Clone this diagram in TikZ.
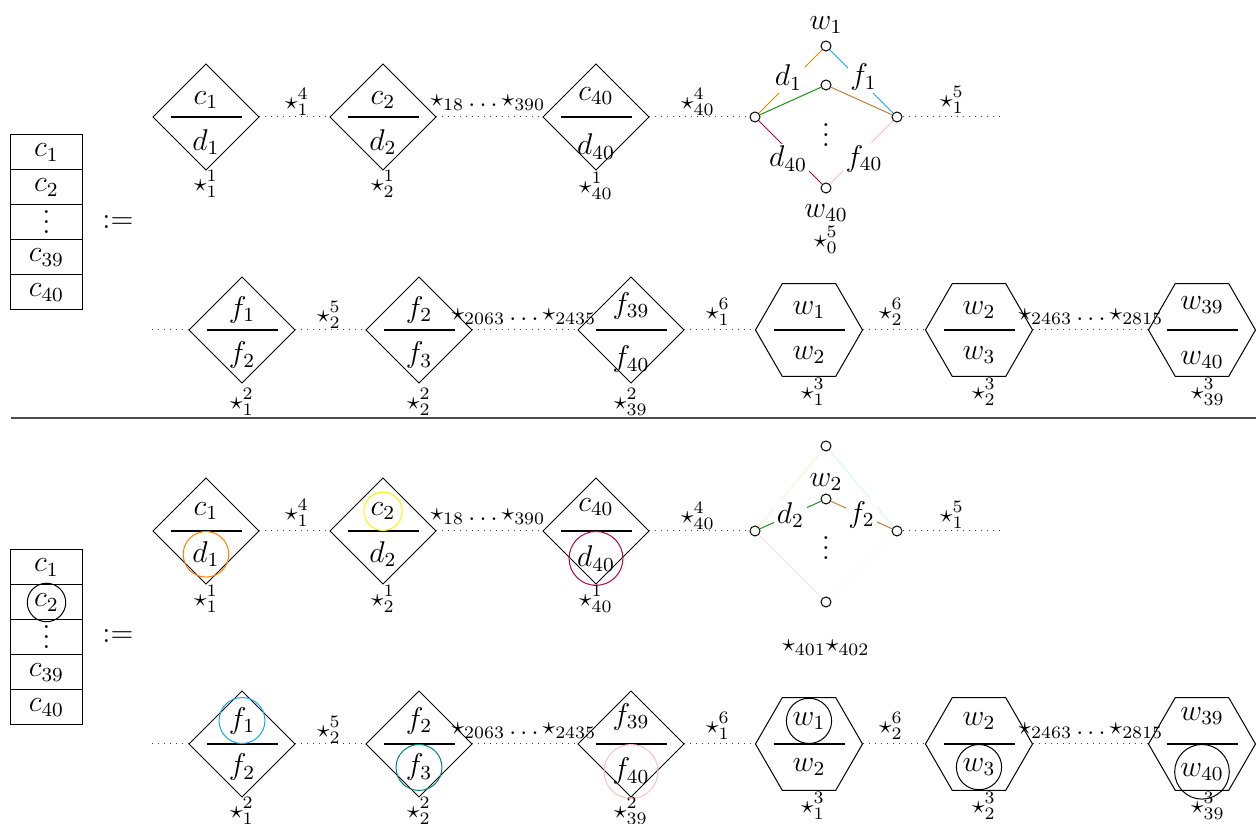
\documentclass[tikz,border=0pt]{standalone}
\usetikzlibrary{shapes.geometric}
\definecolor{mycyan}{RGB}{20,170,230}
\definecolor{mygreen}{RGB}{20,150,20}
\tikzset{
  dia/.style={diamond, draw, minimum width=42.4pt, minimum height=42.4pt, inner sep=0pt, outer sep=0pt},
  hexa/.style={regular polygon, regular polygon sides=6, draw, minimum size=42.8pt, inner sep=0pt, outer sep=0pt},
  part/.style={circle, inner sep=1.2pt, font=\large},
  fracline/.style={line width=0.5pt},
  conn/.style={dotted, black!75},
  lbl/.style={inner sep=0pt, font=\normalsize},
  dotnode/.style={circle, draw, fill=white, minimum size=4pt, inner sep=0pt},
  elab/.style={fill=white, text=black, inner sep=1pt, font=\large},
  cell/.style={draw, minimum width=28.4pt, minimum height=14pt, inner sep=0pt, font=\large},
  bigtxt/.style={inner sep=0pt, font=\large},
  faded/.style={opacity=0.15},
  seprule/.style={black!70, line width=0.6pt},
  topnum/.style={yshift=-1.2pt},
  topden/.style={yshift=-0.8pt},
}
% #1 name, #2 x, #3 y, #4 numerator, #5 denominator, #6 numerator extra, #7 denominator extra
\newcommand{\DiaFrac}[7]{%
  \node[dia] (#1) at (#2,#3) {};
  \draw[fracline] ([xshift=-14.2pt]#1.center) -- ([xshift=14.2pt]#1.center);
  \node[part,anchor=south,#6] (#1n) at (#1.center) {$#4$};
  \node[part,anchor=north,#7] (#1d) at (#1.center) {$#5$};}
\newcommand{\HexFrac}[7]{%
  \node[hexa] (#1) at (#2,#3) {};
  \draw[fracline] ([xshift=-14.2pt]#1.center) -- ([xshift=14.2pt]#1.center);
  \node[part,anchor=south,#6] (#1n) at (#1.center) {$#4$};
  \node[part,anchor=north,#7] (#1d) at (#1.center) {$#5$};}
\begin{document}
\begin{tikzpicture}[x=0.4pt,y=-0.4pt]
\useasboundingbox (0,0) rectangle (1256,824);

% ================= TOP HALF =================
% table
\node[cell] (ta1) at (46.5,152.5) {$c_1$};
\node[cell] (ta2) at (46.5,187.5) {$c_2$};
\node[cell] (ta3) at (46.5,222.5) {};
\node[bigtxt] (ta3v) at (46.5,215) {$\vdots$};
\node[cell] (ta4) at (46.5,257.5) {$c_{39}$};
\node[cell] (ta5) at (46.5,292.5) {$c_{40}$};
\node[bigtxt] (defa) at (118,222) {$:=$};

% row A
\DiaFrac{A1}{206}{117}{c_1}{d_1}{topnum}{topden}
\DiaFrac{A2}{383}{117}{c_2}{d_2}{topnum}{topden}
\DiaFrac{A3}{596}{117}{c_{40}}{d_{40}}{topnum}{topden}
\node[dotnode] (NL) at (755,117) {};
\node[dotnode] (NT) at (826,46) {};
\node[dotnode] (NM) at (826,85) {};
\node[dotnode] (NR) at (897,117) {};
\node[dotnode] (NB) at (826,188) {};
\coordinate (NE) at (1000,117);
\draw[conn] (A1.east) -- (A2.west);
\draw[conn] (A2.east) -- (A3.west);
\draw[conn] (A3.east) -- (NL);
\draw[conn] (NR) -- (NE);
\draw[orange] (NL) -- node[elab, shift={(-0.8pt,1.6pt)}]{$d_1$} (NT);
\draw[mycyan] (NT) -- node[elab, shift={(0.8pt,1.6pt)}]{$f_1$} (NR);
\draw[mygreen] (NL) -- (NM);
\draw[brown] (NM) -- (NR);
\draw[purple] (NL) -- node[elab, shift={(-1pt,-2.5pt)}]{$d_{40}$} (NB);
\draw[pink] (NB) -- node[elab, shift={(1pt,-2.5pt)}]{$f_{40}$} (NR);
\node[bigtxt] (wa1) at (826,25) {$w_1$};
\node[bigtxt] (vda) at (826,127.5) {$\vdots$};
\node[bigtxt] (wa40) at (826,213) {$w_{40}$};
\node[lbl] (sa05) at (826,240) {$\star^5_0$};
\node[lbl] (sa14) at (297,102) {$\star^4_1$};
\node[lbl] (sa18) at (488,103) {$\star_{18}\ldots\star_{390}$};
\node[lbl] (sa404) at (698,102) {$\star^4_{40}$};
\node[lbl] (sa15) at (952,100) {$\star^5_1$};
\node[lbl] (sa11) at (206,184) {$\star^1_1$};
\node[lbl] (sa21) at (383,184) {$\star^1_2$};
\node[lbl] (sa401) at (596,186) {$\star^1_{40}$};

% row B
\coordinate (BS) at (152,330);
\DiaFrac{B1}{242}{330}{f_1}{f_2}{topnum}{topden}
\DiaFrac{B2}{419}{330}{f_2}{f_3}{topnum}{topden}
\DiaFrac{B3}{631}{330}{f_{39}}{f_{40}}{topnum}{topden}
\HexFrac{B4}{809}{330}{w_1}{w_2}{topnum}{topden}
\HexFrac{B5}{979}{330}{w_2}{w_3}{topnum}{topden}
\HexFrac{B6}{1202}{330}{w_{39}}{w_{40}}{topnum}{topden}
\draw[conn] (BS) -- (B1.west);
\draw[conn] (B1.east) -- (B2.west);
\draw[conn] (B2.east) -- (B3.west);
\draw[conn] (B3.east) -- (B4.west);
\draw[conn] (B4.east) -- (B5.west);
\draw[conn] (B5.east) -- (B6.west);
\node[lbl] (sb25) at (329,315) {$\star^5_2$};
\node[lbl] (sb2063) at (524,317) {$\star_{2063}\ldots\star_{2435}$};
\node[lbl] (sb16) at (718,312) {$\star^6_1$};
\node[lbl] (sb26) at (891,312) {$\star^6_2$};
\node[lbl] (sb2463) at (1091,317) {$\star_{2463}\ldots\star_{2815}$};
\node[lbl] (sb12) at (242,402) {$\star^2_1$};
\node[lbl] (sb22) at (419,402) {$\star^2_2$};
\node[lbl] (sb392) at (631,402) {$\star^2_{39}$};
\node[lbl] (sb13) at (813,392) {$\star^3_1$};
\node[lbl] (sb23) at (984,392) {$\star^3_2$};
\node[lbl] (sb393) at (1208,392) {$\star^3_{39}$};

% separator
\coordinate (sepL) at (11,418);
\coordinate (sepR) at (1256,418);
\draw[seprule] (sepL) -- (sepR);

% ================= BOTTOM HALF =================
\node[cell] (tb1) at (46.5,567.5) {$c_1$};
\node[cell] (tb2) at (46.5,602.5) {};
\node[part,draw] (tb2c) at (tb2) {$c_2$};
\node[cell] (tb3) at (46.5,637.5) {};
\node[bigtxt] (tb3v) at (46.5,630) {$\vdots$};
\node[cell] (tb4) at (46.5,672.5) {$c_{39}$};
\node[cell] (tb5) at (46.5,707.5) {$c_{40}$};
\node[bigtxt] (defb) at (118,636) {$:=$};

% row A'
\DiaFrac{C1}{206}{531}{c_1}{d_1}{}{draw=orange}
\DiaFrac{C2}{383}{531}{c_2}{d_2}{draw=yellow}{}
\DiaFrac{C3}{596}{531}{c_{40}}{d_{40}}{}{draw=purple}
\node[dotnode] (ML) at (755,531) {};
\node[dotnode] (MT) at (826,446) {};
\node[dotnode] (MM) at (826,499) {};
\node[dotnode] (MR) at (897,531) {};
\node[dotnode] (MB) at (826,602) {};
\coordinate (ME) at (1000,531);
\draw[conn] (C1.east) -- (C2.west);
\draw[conn] (C2.east) -- (C3.west);
\draw[conn] (C3.east) -- (ML);
\draw[conn] (MR) -- (ME);
\draw[orange,faded] (ML) -- (MT);
\draw[mycyan,faded] (MT) -- (MR);
\draw[purple,faded] (ML) -- (MB);
\draw[pink,faded] (MB) -- (MR);
\draw[mygreen] (ML) -- node[elab]{$d_2$} (MM);
\draw[brown] (MM) -- node[elab]{$f_2$} (MR);
\node[bigtxt] (wb2) at (826,482) {$w_2$};
\node[bigtxt] (vdb) at (826,540.5) {$\vdots$};
\node[lbl] (sc401) at (826,648) {$\star_{401}\star_{402}$};
\node[lbl] (sc14) at (297,513) {$\star^4_1$};
\node[lbl] (sc18) at (488,517) {$\star_{18}\ldots\star_{390}$};
\node[lbl] (sc404) at (698,516) {$\star^4_{40}$};
\node[lbl] (sc15) at (952,515) {$\star^5_1$};
\node[lbl] (sc11) at (206,599) {$\star^1_1$};
\node[lbl] (sc21) at (383,599) {$\star^1_2$};
\node[lbl] (sc401b) at (596,599) {$\star^1_{40}$};

% row B'
\coordinate (DS) at (152,744);
\DiaFrac{D1}{242}{744}{f_1}{f_2}{draw=mycyan}{}
\DiaFrac{D2}{419}{744}{f_2}{f_3}{}{draw=teal}
\DiaFrac{D3}{631}{744}{f_{39}}{f_{40}}{}{draw=pink}
\HexFrac{D4}{809}{744}{w_1}{w_2}{draw}{}
\HexFrac{D5}{979}{744}{w_2}{w_3}{}{draw}
\HexFrac{D6}{1202}{744}{w_{39}}{w_{40}}{}{draw}
\draw[conn] (DS) -- (D1.west);
\draw[conn] (D1.east) -- (D2.west);
\draw[conn] (D2.east) -- (D3.west);
\draw[conn] (D3.east) -- (D4.west);
\draw[conn] (D4.east) -- (D5.west);
\draw[conn] (D5.east) -- (D6.west);
\node[lbl] (sd25) at (329,730) {$\star^5_2$};
\node[lbl] (sd2063) at (524,731) {$\star_{2063}\ldots\star_{2435}$};
\node[lbl] (sd16) at (718,726) {$\star^6_1$};
\node[lbl] (sd26) at (891,726) {$\star^6_2$};
\node[lbl] (sd2463) at (1091,731) {$\star_{2463}\ldots\star_{2815}$};
\node[lbl] (sd12) at (242,811) {$\star^2_1$};
\node[lbl] (sd22) at (419,811) {$\star^2_2$};
\node[lbl] (sd392) at (631,811) {$\star^2_{39}$};
\node[lbl] (sd13) at (813,806) {$\star^3_1$};
\node[lbl] (sd23) at (984,806) {$\star^3_2$};
\node[lbl] (sd393) at (1208,806) {$\star^3_{39}$};
\end{tikzpicture}
\end{document}
